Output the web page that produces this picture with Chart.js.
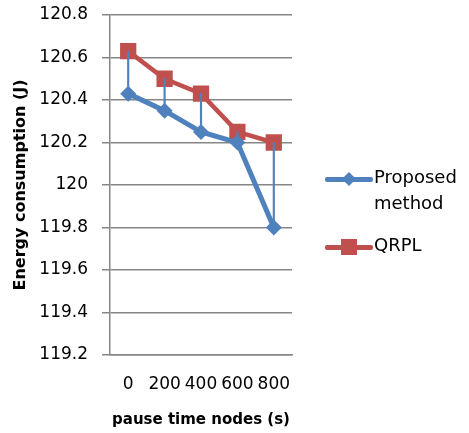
<!DOCTYPE html>
<html>
<head>
<meta charset="utf-8">
<script src="https://cdn.jsdelivr.net/npm/chart.js@4/dist/chart.umd.min.js"></script>
<style>
  body { margin: 0; background: #fff; }
  #wrap { position: relative; width: 469px; height: 433px; }
  #legend { position: absolute; left: 325px; top: 164px; font-family: "DejaVu Sans", sans-serif; font-size: 18px; color: #000; }
  .item { display: flex; align-items: flex-start; margin-bottom: 16px; }
  .swatch { position: relative; width: 48px; height: 28px; flex: none; }
  .swatch .ln { position: absolute; left: 0; right: 0; top: 13px; height: 5px; border-radius: 2px; }
  .swatch .mk { position: absolute; }
  .txt { line-height: 26px; margin-left: 1px; }
</style>
</head>
<body>
<div id="wrap">
  <canvas id="myChart" width="469" height="433"></canvas>
  <div id="legend"></div>
</div>
<script>
// values
var categories = ['0', '200', '400', '600', '800'];
var proposed = [120.43, 120.35, 120.25, 120.2, 119.8];
var qrpl = [120.63, 120.5, 120.43, 120.25, 120.2];
var yTicks = [119.2, 119.4, 119.6, 119.8, 120, 120.2, 120.4, 120.6, 120.8];

var blue = '#4f81bd';
var red = '#c0504d';
var gridColor = '#868686';

// high-low lines between the two series
var highLow = categories.map(function(c, i) {
  return [Math.min(proposed[i], qrpl[i]), Math.max(proposed[i], qrpl[i])];
});

var ctx = document.getElementById('myChart').getContext('2d');
var myChart = new Chart(ctx, {
  data: {
    labels: categories,
    datasets: [{
      type: 'line',
      label: 'QRPL',
      data: qrpl,
      borderColor: red,
      backgroundColor: red,
      borderWidth: 4.5,
      pointStyle: 'rect',
      pointRadius: 11.5,
      pointHoverRadius: 11.5,
      pointBorderWidth: 0,
      order: 2
    }, {
      type: 'line',
      label: 'Proposed method',
      data: proposed,
      borderColor: blue,
      backgroundColor: blue,
      borderWidth: 5,
      pointStyle: 'rectRot',
      pointRadius: 8,
      pointHoverRadius: 8,
      pointBorderWidth: 0,
      order: 1
    }, {
      type: 'bar',
      label: 'high-low',
      data: highLow,
      backgroundColor: blue,
      barThickness: 1.5,
      order: 0
    }]
  },
  options: {
    responsive: false,
    animation: false,
    layout: { padding: { left: 7, top: 15, right: 177, bottom: 0 } },
    plugins: {
      legend: { display: false },
      tooltip: { enabled: false }
    },
    scales: {
      x: {
        offset: true,
        grid: { display: false },
        border: { display: true, color: gridColor, width: 1.5 },
        ticks: { color: '#000', font: { family: 'DejaVu Sans', size: 17 }, padding: 11, maxRotation: 0, autoSkip: false },
        title: { display: true, text: 'pause time nodes (s)', color: '#000', font: { family: 'DejaVu Sans', size: 15, weight: 'bold' }, padding: { top: 3 } },
        afterFit: function(scale) { scale.height = 78; }
      },
      y: {
        min: 119.2,
        max: 120.8,
        afterBuildTicks: function(scale) {
          scale.ticks = yTicks.map(function(v) { return { value: v }; });
        },
        grid: { color: gridColor, lineWidth: 1.5, tickLength: 8 },
        border: { display: true, color: gridColor, width: 1.5 },
        ticks: {
          color: '#000',
          font: { family: 'DejaVu Sans', size: 17 },
          padding: 14,
          callback: function(v) { return Number(v.toFixed(1)).toString(); }
        },
        title: { display: true, text: 'Energy consumption (J)', color: '#000', font: { family: 'DejaVu Sans', size: 16, weight: 'bold' }, padding: { bottom: 0 } },
        afterFit: function(scale) {
          scale.width = 103;
          scale.paddingTop = 0;
          scale.paddingBottom = 0;
        }
      }
    }
  }
});

// legend drawn as html so the label can wrap
var legendItems = [
  { text: 'Proposed<br>method', color: blue, marker: 'diamond' },
  { text: 'QRPL', color: red, marker: 'square' }
];
var html = '';
legendItems.forEach(function(it) {
  var mk = it.marker == 'diamond'
    ? '<div class="mk" style="left:19px;top:10px;width:10px;height:10px;background:' + it.color + ';transform:rotate(45deg)"></div>'
    : '<div class="mk" style="left:16px;top:7px;width:16px;height:16px;background:' + it.color + '"></div>';
  html += '<div class="item"><div class="swatch"><div class="ln" style="background:' + it.color + '"></div>' + mk + '</div><div class="txt">' + it.text + '</div></div>';
});
document.getElementById('legend').innerHTML = html;
</script>
</body>
</html>
